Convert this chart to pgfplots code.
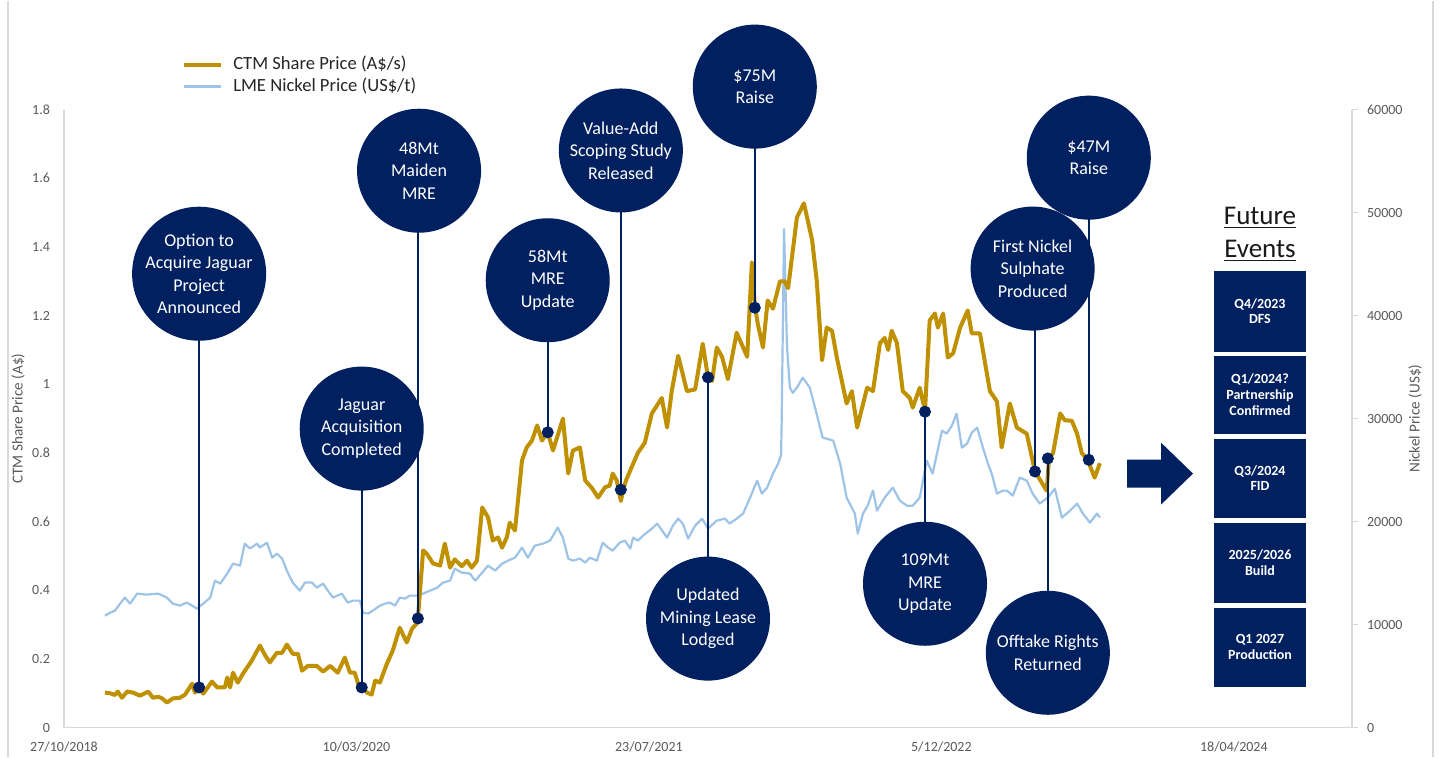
\documentclass[border=0pt]{standalone}
\usepackage{fontspec}
\setmainfont{Carlito}
\usepackage{pgfplots}
\pgfplotsset{compat=1.18}
\usepackage{pgfplotstable}
\definecolor{navy}{RGB}{0,32,96}
\definecolor{gold}{RGB}{191,144,0}
\definecolor{nickel}{RGB}{157,195,230}
\definecolor{axisgray}{RGB}{217,217,217}
\definecolor{tickgray}{RGB}{89,89,89}
\tikzset{evt/.style={circle, fill=navy, draw=none, minimum size=62pt, inner sep=0pt, text=white, align=center, font=\fontsize{9}{11.25}\selectfont}}

% x = days since 27/10/2018
\pgfplotstableread{
d v
70 0.102
79 0.100
87 0.095
92 0.105
99 0.087
108 0.105
118 0.102
130 0.093
144 0.105
152 0.087
161 0.090
168 0.085
176 0.073
186 0.085
198 0.087
207 0.096
219 0.128
224 0.102
231 0.117
238 0.099
253 0.134
262 0.117
275 0.117
279 0.146
284 0.117
289 0.160
297 0.131
306 0.157
321 0.195
335 0.239
344 0.210
352 0.190
364 0.218
373 0.218
381 0.242
391 0.215
400 0.215
407 0.166
417 0.180
432 0.180
443 0.163
455 0.180
468 0.160
480 0.204
489 0.160
497 0.160
504 0.122
509 0.117
518 0.102
526 0.096
532 0.137
540 0.131
552 0.186
562 0.224
574 0.291
586 0.248
595 0.288
603 0.303
605 0.318
614 0.516
620 0.507
631 0.478
643 0.472
651 0.536
660 0.466
668 0.490
680 0.470
689 0.486
697 0.466
706 0.486
715 0.641
725 0.612
733 0.545
742 0.554
749 0.524
757 0.554
762 0.597
771 0.574
783 0.778
791 0.816
800 0.836
809 0.880
817 0.836
827 0.860
831 0.836
836 0.807
853 0.900
862 0.740
870 0.807
882 0.816
891 0.720
903 0.697
913 0.670
925 0.700
933 0.705
938 0.740
945 0.720
952 0.660
957 0.700
962 0.725
981 0.800
993 0.830
1005 0.915
1022 0.960
1031 0.874
1039 0.980
1050 1.083
1065 0.980
1079 0.985
1092 1.118
1101 1.020
1108 1.010
1116 1.107
1125 1.080
1135 1.015
1150 1.150
1168 1.080
1176 1.355
1181 1.230
1186 1.177
1195 1.107
1203 1.244
1212 1.220
1224 1.300
1232 1.300
1238 1.280
1253 1.486
1265 1.527
1279 1.420
1287 1.300
1296 1.070
1304 1.165
1313 1.156
1321 1.080
1338 0.944
1347 0.980
1356 0.874
1373 0.990
1383 0.980
1395 1.120
1403 1.135
1409 1.100
1415 1.156
1424 1.120
1434 0.980
1446 0.960
1451 0.932
1463 0.990
1472 0.923
1480 1.186
1489 1.206
1494 1.165
1503 1.206
1511 1.078
1520 1.090
1532 1.165
1545 1.215
1552 1.148
1566 1.148
1583 0.980
1595 0.950
1603 0.816
1617 0.944
1629 0.874
1646 0.856
1660 0.746
1680 0.690
1684 0.784
1691 0.800
1703 0.915
1711 0.895
1723 0.894
1732 0.856
1740 0.800
1750 0.780
1762 0.728
1771 0.770
}\ctm

\pgfplotstableread{
d n
70 10870
79 11165
87 11360
96 12040
104 12620
113 12040
125 13010
142 12910
161 13010
176 12620
186 12040
198 11845
210 12135
219 11845
227 11550
238 12040
250 12620
258 14270
267 13980
279 14950
289 15920
301 15730
309 17860
318 17380
330 17860
335 17480
347 17960
356 16500
364 16890
373 16410
381 15240
391 14080
403 13300
412 14080
424 14080
432 13590
443 13980
451 13300
460 12620
475 13010
485 12135
494 12330
506 12330
511 11165
520 11070
528 11360
540 11845
549 12040
557 12135
566 11845
574 12620
583 12525
591 12815
603 12815
614 13010
626 13300
638 13590
648 14080
660 14270
668 15440
680 15050
694 14950
703 14270
715 15050
725 15730
737 15240
749 15920
759 16210
771 16500
783 17480
793 16500
805 17670
819 17860
831 18155
844 19420
853 18450
862 16410
870 16210
882 16410
891 16020
899 16500
911 16210
921 17960
930 17480
938 17180
950 17960
959 18155
968 17380
973 18450
981 18155
990 18640
1005 19320
1014 19805
1019 19420
1031 18450
1041 19610
1050 20290
1058 19805
1067 18350
1079 19610
1091 20290
1101 19320
1116 20100
1130 20290
1138 19805
1150 20290
1161 20780
1173 22330
1185 23980
1193 22720
1202 23300
1212 24660
1221 25630
1226 26500
1227 30000
1231 48400
1236 37000
1241 33000
1246 32500
1253 33010
1263 33980
1275 33010
1284 31070
1297 28155
1315 27865
1327 25630
1338 22330
1352 20780
1357 18835
1366 20780
1374 21550
1383 23010
1390 21070
1403 22330
1417 23300
1429 22040
1441 21550
1451 21550
1463 22330
1475 25920
1485 24660
1501 28835
1509 28545
1518 29320
1526 30485
1535 27185
1544 27570
1552 28640
1561 29125
1571 27185
1579 25730
1586 24660
1595 22720
1605 23010
1612 23010
1622 22525
1634 24270
1646 23980
1656 22720
1668 21750
1682 22330
1694 23200
1706 20390
1720 21070
1732 21750
1742 20780
1754 19900
1766 20780
1771 20390
}\lme

\pgfplotstableread{
d v
231 0.117
509 0.117
605 0.318
827 0.860
952 0.693
1101 1.020
1181 1.223
1472 0.920
1660 0.746
1682 0.784
1752 0.780
}\events

\begin{document}
\begin{tikzpicture}
% page frame: 1440 x 756 px at 0.5pt per px
\begin{scope}[x=0.5pt,y=-0.5pt]
\path (0,0) rectangle (1440,756);
\draw[axisgray, line width=0.6pt] (8,0) -- (8,756);
\draw[axisgray, line width=0.6pt] (1433,0) -- (1433,756);
\end{scope}

% right axis: nickel
\begin{axis}[
  at={(32pt,-363.5pt)}, anchor=south west,
  scale only axis, width=644pt, height=309pt,
  xmin=0, xmax=2202, ymin=0, ymax=60000,
  scaled y ticks=false,
  axis x line=none, axis y line*=right,
  axis line style={-, draw=axisgray, line width=0.6pt},
  ytick={0,10000,20000,30000,40000,50000,60000},
  yticklabels={0,10000,20000,30000,40000,50000,60000},
  tick align=outside, major tick length=3pt,
  ytick style={draw=axisgray, line width=0.6pt},
  yticklabel style={font=\fontsize{7}{8}\selectfont, text=tickgray, xshift=1pt},
  ylabel={Nickel Price (US\$)},
  ylabel style={at={(axis description cs:1.049,0.5)}, anchor=center, font=\fontsize{7.6}{9}\selectfont, text=tickgray},
]
\addplot[nickel, line width=1.1pt, line join=round] table[x=d, y=n] {\lme};
\end{axis}

% left axis: CTM share price and events
\begin{axis}[
  at={(32pt,-363.5pt)}, anchor=south west,
  scale only axis, width=644pt, height=309pt,
  xmin=0, xmax=2202, ymin=0, ymax=1.8,
  clip=false,
  axis x line*=bottom, axis y line*=left,
  axis line style={-, draw=axisgray, line width=0.6pt},
  tick style={draw=none},
  xtick={0,500,1000,1500,2000},
  xticklabels={27/10/2018,10/03/2020,23/07/2021,5/12/2022,18/04/2024},
  ytick={0,0.2,0.4,0.6,0.8,1,1.2,1.4,1.6,1.8},
  yticklabels={0,0.2,0.4,0.6,0.8,1,1.2,1.4,1.6,1.8},
  yticklabel style={font=\fontsize{7}{8}\selectfont, text=tickgray, xshift=-3.5pt},
  xticklabel style={font=\fontsize{7}{8}\selectfont, text=tickgray, yshift=-3.5pt},
  ylabel={CTM Share Price (A\$)},
  ylabel style={at={(axis description cs:-0.0357,0.5)}, anchor=center, font=\fontsize{7.6}{9}\selectfont, text=tickgray},
  legend image code/.code={\draw[#1] (0pt,0pt) -- (18.5pt,0pt);},
  legend style={at={(axis description cs:0.0915,1.0905)}, anchor=north west, draw=none, fill=none, inner sep=0pt, row sep=0.5pt, font=\fontsize{9.3}{11}\selectfont, text=black!85, nodes={inner sep=1pt, text height=6.5pt, text depth=2pt}, /tikz/every odd column/.append style={column sep=4pt}},
  legend cell align=left,
]
\addplot[gold, line width=2pt, line join=round] table[x=d, y=v] {\ctm};
\addlegendentry{CTM Share Price (A\$/s)}
\addlegendimage{nickel, line width=1.1pt}
\addlegendentry{LME Nickel Price (US\$/t)}

% connector lines
\draw[navy, line width=1pt] (axis cs:231,0.117) -- (axis cs:231,1.322);
\draw[navy, line width=1pt] (axis cs:509,0.117) -- (axis cs:509,0.871);
\draw[navy, line width=1pt] (axis cs:605,0.318) -- (axis cs:605,1.622);
\draw[navy, line width=1pt] (axis cs:827,0.860) -- (axis cs:827,1.303);
\draw[navy, line width=1pt] (axis cs:952,0.693) -- (axis cs:952,1.681);
\draw[navy, line width=1pt] (axis cs:1181,1.223) -- (axis cs:1181,1.867);
\draw[navy, line width=1pt] (axis cs:1101,1.020) -- (axis cs:1101,0.3175);
\draw[navy, line width=1pt] (axis cs:1472,0.920) -- (axis cs:1472,0.419);
\draw[navy, line width=1pt] (axis cs:1660,0.746) -- (axis cs:1660,1.337);
\draw[navy, line width=1pt] (axis cs:1682,0.784) -- (axis cs:1682,0.218);
\draw[navy, line width=1pt] (axis cs:1752,0.780) -- (axis cs:1752,1.660);

% event bubbles
\node[evt] at (axis cs:231,1.322) {Option to\\Acquire Jaguar\\Project\\Announced};
\node[evt] at (axis cs:509,0.871) {Jaguar\\Acquisition\\Completed};
\node[evt] at (axis cs:607,1.622) {48Mt\\Maiden\\MRE};
\node[evt] at (axis cs:827,1.303) {58Mt\\MRE\\Update};
\node[evt] at (axis cs:952,1.681) {Value-Add\\Scoping Study\\Released};
\node[evt] at (axis cs:1181,1.867) {\$75M\\Raise};
\node[evt] at (axis cs:1101,0.3175) {Updated\\Mining Lease\\Lodged};
\node[evt] at (axis cs:1472,0.419) {109Mt\\MRE\\Update};
\node[evt] at (axis cs:1656,1.337) {First Nickel\\Sulphate\\Produced};
\node[evt] at (axis cs:1752,1.660) {\$47M\\Raise};
\node[evt] at (axis cs:1682,0.218) {Offtake Rights\\Returned};

\addplot[only marks, mark=*, mark size=2.8pt, navy, forget plot] table[x=d, y=v] {\events};
\end{axis}

% future events panel
\begin{scope}[x=0.5pt,y=-0.5pt]
\node[align=center, font=\fontsize{13.5}{16.5}\selectfont, text=black!90] at (1260,234) {\underline{Future}\\\underline{Events}};
\fill[navy] (1214,270) rectangle (1306,351);
\fill[navy] (1214,355) rectangle (1306,433);
\fill[navy] (1214,438) rectangle (1306,517);
\fill[navy] (1214,522) rectangle (1306,602);
\fill[navy] (1214,607) rectangle (1306,686);
\begin{scope}[every node/.style={text=white, align=center, font=\bfseries\fontsize{7}{7.8}\selectfont}]
\node at (1260,310.5) {Q4/2023\\DFS};
\node at (1260,394) {Q1/2024?\\Partnership\\Confirmed};
\node at (1260,477.5) {Q3/2024\\FID};
\node at (1260,562) {2025/2026\\Build};
\node at (1260,646.5) {Q1 2027\\Production};
\end{scope}
\fill[navy] (1127,459) -- (1161,459) -- (1161,442) -- (1193,473) -- (1161,504) -- (1161,487) -- (1127,487) -- cycle;
\end{scope}
\end{tikzpicture}
\end{document}
